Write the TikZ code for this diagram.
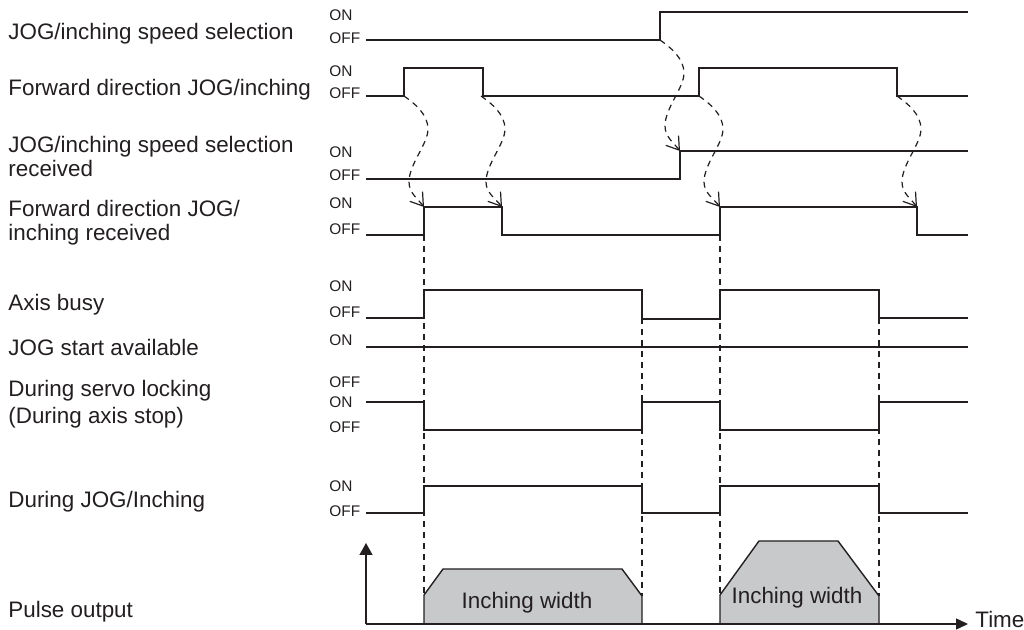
\documentclass[tikz,border=0pt]{standalone}
\usepackage{fontspec}
\setmainfont{Liberation Sans}
\usetikzlibrary{arrows.meta,calc}
\definecolor{ink}{RGB}{35,31,32}
\definecolor{fillg}{RGB}{200,201,203}
\newcommand\jogcurve[2]{\draw[cause] (#1) .. controls ($(#1)+(10,7)$) and ($(#1)+(24,18)$) .. ($(#1)+(24,33)$) .. controls ($(#1)+(24,48)$) and ($(#1)+(5,68)$) .. ($(#1)+(5,86)$) .. controls ($(#1)+(5,97)$) and ($(#2)+(-6,-8)$) .. (#2);}
\begin{document}
\begin{tikzpicture}[x=0.5pt,y=-0.5pt,
  sig/.style={draw=ink,line width=0.7pt},
  guide/.style={draw=ink,line width=0.55pt,dash pattern=on 3pt off 2.5pt},
  cause/.style={draw=ink,line width=0.6pt,dash pattern=on 3pt off 2.5pt,-{Straight Barb[length=6pt,width=8pt]}},
  lbl/.style={anchor=base west,inner sep=0pt,font=\fontsize{11.2}{13}\selectfont,text=ink},
  lvl/.style={anchor=base west,inner sep=0pt,font=\fontsize{7.7}{9}\selectfont,text=ink},
  pulse/.style={draw=ink,line width=0.7pt,fill=fillg},
  ]
\useasboundingbox (0,0) rectangle (1024,630);

% signal names
\node[lbl] (n1) at (8,40) {JOG/inching speed selection};
\node[lbl] (n2) at (8,96) {Forward direction JOG/inching};
\node[lbl] (n3a) at (8,153) {JOG/inching speed selection};
\node[lbl] (n3b) at (8,177) {received};
\node[lbl] (n4a) at (8,217) {Forward direction JOG/};
\node[lbl] (n4b) at (8,241) {inching received};
\node[lbl] (n5) at (8,311) {Axis busy};
\node[lbl] (n6) at (8,356) {JOG start available};
\node[lbl] (n7a) at (8,397) {During servo locking};
\node[lbl] (n7b) at (8,424) {(During axis stop)};
\node[lbl] (n8) at (8,508) {During JOG/Inching};
\node[lbl] (n9) at (8,618) {Pulse output};

% ON/OFF levels
\node[lvl] (on1) at (329,21) {ON};
\node[lvl] (off1) at (329,44) {OFF};
\node[lvl] (on2) at (329,77) {ON};
\node[lvl] (off2) at (329,99) {OFF};
\node[lvl] (on3) at (329,158) {ON};
\node[lvl] (off3) at (329,181) {OFF};
\node[lvl] (on4) at (329,209) {ON};
\node[lvl] (off4) at (329,235) {OFF};
\node[lvl] (on5) at (329,292) {ON};
\node[lvl] (off5) at (329,318) {OFF};
\node[lvl] (on6) at (329,346) {ON};
\node[lvl] (off6) at (329,388) {OFF};
\node[lvl] (on7) at (329,408) {ON};
\node[lvl] (off7) at (329,433) {OFF};
\node[lvl] (on8) at (329,492) {ON};
\node[lvl] (off8) at (329,517) {OFF};

% edge corners
\coordinate (s1r) at (660,40);
\coordinate (s2r1) at (404,96);
\coordinate (s2f1) at (481,96);
\coordinate (s2r2) at (699,96);
\coordinate (s2f2) at (897,96);
\coordinate (t3r) at (680,151);
\coordinate (t4r1) at (424,207);
\coordinate (t4f1) at (502,207);
\coordinate (t4r2) at (720,207);
\coordinate (t4f2) at (917,207);
\coordinate (o) at (366,624);

% vertical guides
\draw[guide] (424,235) -- (424,595);
\draw[guide] (642,318) -- (642,596);
\draw[guide] (720,235) -- (720,595);
\draw[guide] (879,318) -- (879,596);

% waveforms
\draw[sig] (366,40) -- (s1r) -- (660,12) -- (968,12);
\draw[sig] (366,96) -- (404,96) -- (404,68) -- (483,68) -- (483,96) -- (699,96) -- (699,68) -- (897,68) -- (s2f2) -- (968,96);
\draw[sig] (366,179) -- (680,179) -- (t3r) -- (968,151);
\draw[sig] (366,235) -- (424,235) -- (t4r1) -- (t4f1) -- (502,235) -- (720,235) -- (t4r2) -- (t4f2) -- (917,235) -- (968,235);
\draw[sig] (366,318) -- (424,318) -- (424,290) -- (642,290) -- (642,319) -- (720,319) -- (720,290) -- (879,290) -- (879,318) -- (968,318);
\draw[sig] (366,347) -- (968,347);
\draw[sig] (366,402) -- (424,402) -- (424,430) -- (642,430) -- (642,402) -- (720,402) -- (720,430) -- (879,430) -- (879,402) -- (968,402);
\draw[sig] (366,513) -- (424,513) -- (424,486) -- (642,486) -- (642,513) -- (720,513) -- (720,486) -- (879,486) -- (879,513) -- (968,513);

% cause-effect arrows
\jogcurve{s2r1}{t4r1}
\jogcurve{s2f1}{t4f1}
\jogcurve{s1r}{t3r}
\jogcurve{s2r2}{t4r2}
\jogcurve{s2f2}{t4f2}

% pulse output
\draw[pulse] (424,624) -- (424,595) -- (443,569) -- (622,569) -- (642,596) -- (642,624) -- cycle;
\draw[pulse] (720,624) -- (720,595) -- (759,541) -- (838,541) -- (879,596) -- (879,624) -- cycle;
\node[anchor=base,inner sep=0pt,font=\fontsize{11.2}{13}\selectfont,text=ink] (w1) at (527,609) {Inching width};
\node[anchor=base,inner sep=0pt,font=\fontsize{11.2}{13}\selectfont,text=ink] (w2) at (797,604) {Inching width};
\coordinate (ytip) at (366,543);
\coordinate (xtip) at (968,624);
\draw[sig,-{Triangle[length=6pt,width=6.5pt]}] (o) -- (ytip);
\draw[sig,-{Triangle[length=6pt,width=5.5pt]}] (o) -- (xtip);
\node[lbl] (time) at (975,628) {Time};
\end{tikzpicture}
\end{document}
